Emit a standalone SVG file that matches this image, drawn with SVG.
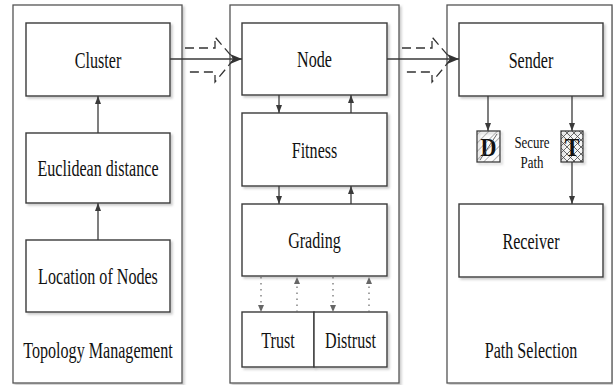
<svg xmlns="http://www.w3.org/2000/svg" width="613" height="385" viewBox="0 0 613 385">
<style>
.panel{fill:#fff;stroke:#555;stroke-width:1.3}
.box{fill:#fff;stroke:#3a3a3a;stroke-width:1.4}
.t{font-family:"Liberation Serif","Times New Roman",serif;font-size:23px;fill:#111;text-anchor:middle}
.s{font-family:"Liberation Serif","Times New Roman",serif;font-size:17px;fill:#111;text-anchor:middle}
.b{font-family:"Liberation Serif","Times New Roman",serif;font-size:26px;font-weight:bold;fill:#111;text-anchor:middle}
.ln{stroke:#3a3a3a;stroke-width:1.3;fill:none}
.dot{stroke:#666;stroke-width:1.2;fill:none;stroke-dasharray:1.5,4.5}
.blk{stroke:#333;stroke-width:1.3;fill:none;stroke-dasharray:9,5}
</style>
<defs>
<filter id="sh" x="-10%" y="-10%" width="130%" height="130%">
<feDropShadow dx="2" dy="2" stdDeviation="1" flood-color="#999" flood-opacity="0.5"/>
</filter>
<marker id="ah" markerWidth="8" markerHeight="6" refX="8" refY="3" orient="auto" markerUnits="userSpaceOnUse">
<path d="M0,0 L8,3 L0,6 Z" fill="#3a3a3a"/>
</marker>
<marker id="ahb" markerWidth="12" markerHeight="10" refX="12" refY="5" orient="auto" markerUnits="userSpaceOnUse">
<path d="M0,0 L12,5 L0,10 L3,5 Z" fill="#333"/>
</marker>
<marker id="ahg" markerWidth="7" markerHeight="6" refX="7" refY="3" orient="auto" markerUnits="userSpaceOnUse">
<path d="M0,0 L7,3 L0,6 Z" fill="#666"/>
</marker>
<pattern id="hatch" width="6" height="6" patternUnits="userSpaceOnUse" patternTransform="rotate(45)">
<line x1="0" y1="0" x2="0" y2="6" stroke="#444" stroke-width="0.8"/>
</pattern>
<pattern id="cross" width="7" height="7" patternUnits="userSpaceOnUse">
<path d="M0,0 L7,7 M7,0 L0,7" stroke="#444" stroke-width="0.8"/>
</pattern>
</defs>

<g id="panel-topology">
<rect class="panel" x="13" y="5" width="169" height="378" filter="url(#sh)"/>
<text class="t" transform="translate(98,358) scale(0.7,1)">Topology Management</text>
</g>
<g id="panel-middle">
<rect class="panel" x="230" y="5" width="169" height="378" filter="url(#sh)"/>
</g>
<g id="panel-path">
<rect class="panel" x="447" y="5" width="165" height="378" filter="url(#sh)"/>
<text class="t" transform="translate(531,358) scale(0.7,1)">Path Selection</text>
</g>

<g id="cluster">
<rect class="box" x="26" y="23" width="144" height="73" filter="url(#sh)"/>
<text class="t" transform="translate(98,67.5) scale(0.7,1)">Cluster</text>
</g>
<g id="euclidean">
<rect class="box" x="26" y="133" width="144" height="70" filter="url(#sh)"/>
<text class="t" transform="translate(98,176) scale(0.7,1)">Euclidean distance</text>
</g>
<g id="location">
<rect class="box" x="26" y="240" width="144" height="72" filter="url(#sh)"/>
<text class="t" transform="translate(98,284) scale(0.7,1)">Location of Nodes</text>
</g>

<g id="node">
<rect class="box" x="242" y="23" width="145" height="72" filter="url(#sh)"/>
<text class="t" transform="translate(314.5,67) scale(0.7,1)">Node</text>
</g>
<g id="fitness">
<rect class="box" x="242" y="113" width="145" height="73" filter="url(#sh)"/>
<text class="t" transform="translate(314.5,157.5) scale(0.7,1)">Fitness</text>
</g>
<g id="grading">
<rect class="box" x="242" y="204" width="145" height="72" filter="url(#sh)"/>
<text class="t" transform="translate(314.5,248) scale(0.7,1)">Grading</text>
</g>
<g id="trust">
<rect class="box" x="242" y="312" width="72" height="55" filter="url(#sh)"/>
<text class="t" transform="translate(278,347.5) scale(0.7,1)">Trust</text>
</g>
<g id="distrust">
<rect class="box" x="314" y="312" width="73" height="55" filter="url(#sh)"/>
<text class="t" transform="translate(350.5,347.5) scale(0.7,1)">Distrust</text>
</g>

<g id="sender">
<rect class="box" x="459" y="23" width="144" height="73" filter="url(#sh)"/>
<text class="t" transform="translate(531,67.5) scale(0.7,1)">Sender</text>
</g>
<g id="receiver">
<rect class="box" x="459" y="204" width="144" height="73" filter="url(#sh)"/>
<text class="t" transform="translate(531,248.5) scale(0.7,1)">Receiver</text>
</g>
<g id="d-node">
<rect x="477" y="131" width="23" height="31" fill="url(#hatch)" stroke="#3a3a3a" stroke-width="1.3" filter="url(#sh)"/>
<text class="b" transform="translate(488.5,155.5) scale(0.85,1)">D</text>
<line x1="480" y1="160" x2="497" y2="134" stroke="#444" stroke-width="0.8"/>
</g>
<g id="t-node">
<rect x="561" y="131" width="22" height="31" fill="url(#cross)" stroke="#3a3a3a" stroke-width="1.3" filter="url(#sh)"/>
<text class="b" transform="translate(572,155.5) scale(0.85,1)">T</text>
</g>
<g id="secure-path-label">
<text class="s" transform="translate(532,148) scale(0.76,1)">Secure</text>
<text class="s" transform="translate(532,168) scale(0.76,1)">Path</text>
</g>

<g id="connectors">
<line class="ln" x1="98" y1="240" x2="98" y2="203" marker-end="url(#ah)"/>
<line class="ln" x1="98" y1="133" x2="98" y2="96" marker-end="url(#ah)"/>
<line class="ln" x1="170" y1="59" x2="242" y2="59" marker-end="url(#ahb)"/>
<line class="ln" x1="387" y1="59" x2="459" y2="59" marker-end="url(#ahb)"/>
<polyline class="blk" points="185,48 215,48 215,37 234,59 215,82 215,72 185,72"/>
<polyline class="blk" points="402,48 432,48 432,37 451,59 432,82 432,72 402,72"/>
<line class="ln" x1="279" y1="95" x2="279" y2="113" marker-end="url(#ah)"/>
<line class="ln" x1="351" y1="113" x2="351" y2="95" marker-end="url(#ah)"/>
<line class="ln" x1="279" y1="186" x2="279" y2="204" marker-end="url(#ah)"/>
<line class="ln" x1="351" y1="204" x2="351" y2="186" marker-end="url(#ah)"/>
<line class="dot" x1="261" y1="277" x2="261" y2="312" marker-end="url(#ahg)"/>
<line class="dot" x1="297" y1="312" x2="297" y2="277" marker-end="url(#ahg)"/>
<line class="dot" x1="333" y1="277" x2="333" y2="312" marker-end="url(#ahg)"/>
<line class="dot" x1="369" y1="312" x2="369" y2="277" marker-end="url(#ahg)"/>
<line class="ln" x1="488" y1="96" x2="488" y2="131" marker-end="url(#ah)"/>
<line class="ln" x1="572" y1="96" x2="572" y2="131" marker-end="url(#ah)"/>
<line class="ln" x1="572" y1="162" x2="572" y2="204" marker-end="url(#ah)"/>
</g>
</svg>
